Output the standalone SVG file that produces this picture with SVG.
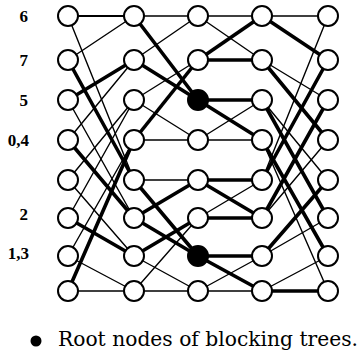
<svg xmlns="http://www.w3.org/2000/svg" width="363" height="356" viewBox="0 0 363 356">
  <style>
    .n { fill: #fff; stroke: #000; stroke-width: 2; }
    .root { fill: #000; stroke: #000; stroke-width: 2; }
    .e { stroke: #000; stroke-width: 1.4; fill: none; stroke-linecap: round; }
    .m { stroke: #000; stroke-width: 2.2; fill: none; stroke-linecap: round; }
    .t { stroke: #000; stroke-width: 3.6; fill: none; stroke-linecap: round; }
    .lbl { font-family: "Liberation Serif", "Times New Roman", serif; font-weight: bold; font-size: 17px; text-anchor: end; }
    .cap { font-family: "DejaVu Serif", "Liberation Serif", serif; font-size: 19.5px; }
  </style>
  <rect width="363" height="356" fill="#fff"/>
  <g id="connectors">
    <!-- stage 1: unshuffle over all eight lines -->
    <line class="m" x1="68" y1="16" x2="134" y2="16"/>
    <line class="e" x1="68" y1="16" x2="134" y2="180"/>
    <line class="e" x1="68" y1="60" x2="134" y2="16"/>
    <line class="t" x1="68" y1="60" x2="134" y2="180"/>
    <line class="t" x1="68" y1="100" x2="134" y2="60"/>
    <line class="e" x1="68" y1="100" x2="134" y2="218"/>
    <line class="e" x1="68" y1="140" x2="134" y2="60"/>
    <line class="t" x1="68" y1="140" x2="134" y2="218"/>
    <line class="e" x1="68" y1="180" x2="134" y2="100"/>
    <line class="e" x1="68" y1="180" x2="134" y2="256"/>
    <line class="e" x1="68" y1="218" x2="134" y2="100"/>
    <line class="t" x1="68" y1="218" x2="134" y2="256"/>
    <line class="e" x1="68" y1="256" x2="134" y2="140"/>
    <line class="e" x1="68" y1="256" x2="134" y2="291"/>
    <line class="t" x1="68" y1="291" x2="134" y2="140"/>
    <line class="e" x1="68" y1="291" x2="134" y2="291"/>
    <!-- stage 2: unshuffle inside blocks of four -->
    <line class="e" x1="134" y1="16" x2="198" y2="16"/>
    <line class="t" x1="134" y1="16" x2="198" y2="100"/>
    <line class="e" x1="134" y1="60" x2="198" y2="16"/>
    <line class="t" x1="134" y1="60" x2="198" y2="100"/>
    <line class="e" x1="134" y1="100" x2="198" y2="60"/>
    <line class="e" x1="134" y1="100" x2="198" y2="140"/>
    <line class="t" x1="134" y1="140" x2="198" y2="60"/>
    <line class="e" x1="134" y1="140" x2="198" y2="140"/>
    <line class="e" x1="134" y1="180" x2="198" y2="180"/>
    <line class="t" x1="134" y1="180" x2="198" y2="256"/>
    <line class="t" x1="134" y1="218" x2="198" y2="180"/>
    <line class="t" x1="134" y1="218" x2="198" y2="256"/>
    <line class="t" x1="134" y1="256" x2="198" y2="218"/>
    <line class="e" x1="134" y1="256" x2="198" y2="291"/>
    <line class="e" x1="134" y1="291" x2="198" y2="218"/>
    <line class="e" x1="134" y1="291" x2="198" y2="291"/>
    <!-- stage 3: exchange inside pairs -->
    <line class="e" x1="198" y1="16" x2="262" y2="16"/>
    <line class="e" x1="198" y1="16" x2="262" y2="60"/>
    <line class="t" x1="198" y1="60" x2="262" y2="16"/>
    <line class="t" x1="198" y1="60" x2="262" y2="60"/>
    <line class="t" x1="198" y1="100" x2="262" y2="100"/>
    <line class="t" x1="198" y1="100" x2="262" y2="140"/>
    <line class="e" x1="198" y1="140" x2="262" y2="100"/>
    <line class="e" x1="198" y1="140" x2="262" y2="140"/>
    <line class="t" x1="198" y1="180" x2="262" y2="180"/>
    <line class="t" x1="198" y1="180" x2="262" y2="218"/>
    <line class="e" x1="198" y1="218" x2="262" y2="180"/>
    <line class="t" x1="198" y1="218" x2="262" y2="218"/>
    <line class="t" x1="198" y1="256" x2="262" y2="256"/>
    <line class="t" x1="198" y1="256" x2="262" y2="291"/>
    <line class="e" x1="198" y1="291" x2="262" y2="256"/>
    <line class="e" x1="198" y1="291" x2="262" y2="291"/>
    <!-- stage 4: perfect shuffle -->
    <line class="e" x1="262" y1="16" x2="328" y2="16"/>
    <line class="t" x1="262" y1="16" x2="328" y2="60"/>
    <line class="e" x1="262" y1="60" x2="328" y2="100"/>
    <line class="t" x1="262" y1="60" x2="328" y2="140"/>
    <line class="e" x1="262" y1="100" x2="328" y2="180"/>
    <line class="t" x1="262" y1="100" x2="328" y2="218"/>
    <line class="t" x1="262" y1="140" x2="328" y2="256"/>
    <line class="e" x1="262" y1="140" x2="328" y2="291"/>
    <line class="e" x1="262" y1="180" x2="328" y2="16"/>
    <line class="t" x1="262" y1="180" x2="328" y2="60"/>
    <line class="t" x1="262" y1="218" x2="328" y2="100"/>
    <line class="e" x1="262" y1="218" x2="328" y2="140"/>
    <line class="t" x1="262" y1="256" x2="328" y2="180"/>
    <line class="e" x1="262" y1="256" x2="328" y2="218"/>
    <line class="e" x1="262" y1="291" x2="328" y2="256"/>
    <line class="t" x1="262" y1="291" x2="328" y2="291"/>
  </g>
  <g id="col1">
    <circle class="n" cx="68" cy="16" r="10"/>
    <circle class="n" cx="68" cy="60" r="10"/>
    <circle class="n" cx="68" cy="100" r="10"/>
    <circle class="n" cx="68" cy="140" r="10"/>
    <circle class="n" cx="68" cy="180" r="10"/>
    <circle class="n" cx="68" cy="218" r="10"/>
    <circle class="n" cx="68" cy="256" r="10"/>
    <circle class="n" cx="68" cy="291" r="10"/>
  </g>
  <g id="col2">
    <circle class="n" cx="134" cy="16" r="10"/>
    <circle class="n" cx="134" cy="60" r="10"/>
    <circle class="n" cx="134" cy="100" r="10"/>
    <circle class="n" cx="134" cy="140" r="10"/>
    <circle class="n" cx="134" cy="180" r="10"/>
    <circle class="n" cx="134" cy="218" r="10"/>
    <circle class="n" cx="134" cy="256" r="10"/>
    <circle class="n" cx="134" cy="291" r="10"/>
  </g>
  <g id="col3">
    <circle class="n" cx="198" cy="16" r="10"/>
    <circle class="n" cx="198" cy="60" r="10"/>
    <circle class="root" cx="198" cy="100" r="10"/>
    <circle class="n" cx="198" cy="140" r="10"/>
    <circle class="n" cx="198" cy="180" r="10"/>
    <circle class="n" cx="198" cy="218" r="10"/>
    <circle class="root" cx="198" cy="256" r="10"/>
    <circle class="n" cx="198" cy="291" r="10"/>
  </g>
  <g id="col4">
    <circle class="n" cx="262" cy="16" r="10"/>
    <circle class="n" cx="262" cy="60" r="10"/>
    <circle class="n" cx="262" cy="100" r="10"/>
    <circle class="n" cx="262" cy="140" r="10"/>
    <circle class="n" cx="262" cy="180" r="10"/>
    <circle class="n" cx="262" cy="218" r="10"/>
    <circle class="n" cx="262" cy="256" r="10"/>
    <circle class="n" cx="262" cy="291" r="10"/>
  </g>
  <g id="col5">
    <circle class="n" cx="328" cy="16" r="10"/>
    <circle class="n" cx="328" cy="60" r="10"/>
    <circle class="n" cx="328" cy="100" r="10"/>
    <circle class="n" cx="328" cy="140" r="10"/>
    <circle class="n" cx="328" cy="180" r="10"/>
    <circle class="n" cx="328" cy="218" r="10"/>
    <circle class="n" cx="328" cy="256" r="10"/>
    <circle class="n" cx="328" cy="291" r="10"/>
  </g>
  <g id="labels">
    <text class="lbl" x="28" y="22">6</text>
    <text class="lbl" x="28" y="66">7</text>
    <text class="lbl" x="28" y="106">5</text>
    <text class="lbl" x="29" y="146">0,4</text>
    <text class="lbl" x="28" y="220">2</text>
    <text class="lbl" x="29" y="259">1,3</text>
  </g>
  <g id="legend">
    <circle class="root" cx="36" cy="341" r="4.5"/>
    <text class="cap" x="58" y="346" textLength="300" lengthAdjust="spacingAndGlyphs">Root nodes of blocking trees.</text>
  </g>
</svg>
